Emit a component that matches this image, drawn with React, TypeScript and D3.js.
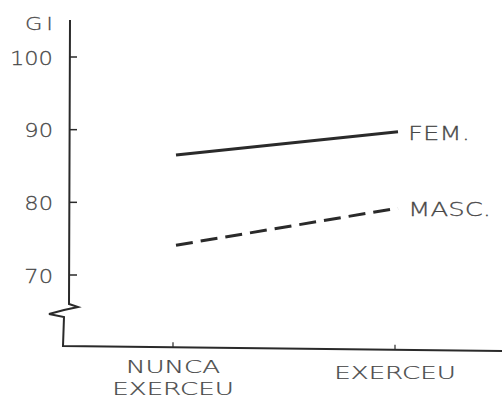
import * as d3 from 'd3'

const categories = ['NUNCA EXERCEU', 'EXERCEU']
const femValues = [86.5, 89.7]
const mascValues = [74.1, 79.2]
const yTicks = [70, 80, 90, 100]
const seriesLabels = ['FEM.', 'MASC.']

const W = 502
const H = 400

const ink = '#2a2a2a'
const font = "'DejaVu Sans', sans-serif"
const labelFill = '#474747'

// wide, thin lettering like the stencil of the original
function Wide({ x, y, sx = 1.3, anchor = 'start', size = 20, children }: any) {
  return (
    <g transform={`translate(${x},${y}) scale(${sx},1)`}>
      <text
        textAnchor={anchor}
        fontFamily={font}
        fontSize={size}
        fontWeight={200}
        fill={labelFill}
        stroke={labelFill}
        strokeWidth={0.25}
      >
        {children}
      </text>
    </g>
  )
}

export default function App() {
  const x = d3.scalePoint<string>().domain(categories).range([173, 395])
  const y = d3.scaleLinear().domain([70, 100]).range([275, 57])

  const line = d3
    .line<number>()
    .x((_, i) => (x(categories[i]) as number) + 3)
    .y(d => y(d))

  const axisX0 = 66
  const baseY = 346
  // hand-drawn break on the y axis
  const axisPath = d3.path()
  axisPath.moveTo(70, 20)
  axisPath.lineTo(69, 304)
  axisPath.lineTo(78, 307)
  axisPath.lineTo(64, 310)
  axisPath.lineTo(49, 314)
  axisPath.lineTo(64, 317)
  axisPath.lineTo(63, baseY)
  axisPath.lineTo(W, 351)

  return (
    <svg width={W} height={H} style={{ position: 'absolute', left: 0, top: 0, background: '#fff' }}>
      <path d={axisPath.toString()} fill="none" stroke={ink} strokeWidth={2} />
      <Wide x={25} y={30} sx={1.25} size={18}>
        <tspan>G</tspan>
        <tspan dx={3}>I</tspan>
      </Wide>
      {yTicks.map(t => (
        <g key={t}>
          <line x1={axisX0 + 3} x2={axisX0 + 11} y1={y(t)} y2={y(t)} stroke={ink} strokeWidth={1.5} />
          <Wide x={53} y={y(t) + 7.5} sx={1.13} anchor="end">
            {t}
          </Wide>
        </g>
      ))}
      {categories.map((c, i) => {
        const cx = x(c) as number
        const ty = baseY + (cx - 63) * (5 / (W - 63))
        const words = i === 0 ? c.split(' ') : [c]
        return (
          <g key={c}>
            <line x1={cx} x2={cx} y1={ty} y2={ty - 5} stroke={ink} strokeWidth={1.2} />
            {words.map((w, j) => (
              <Wide key={w} x={cx} y={(i === 0 ? 373 : 379) + j * 22} anchor="middle" sx={1.45} size={18}>
                {w}
              </Wide>
            ))}
          </g>
        )
      })}
      <path d={line(femValues) as string} fill="none" stroke={ink} strokeWidth={3} />
      <path
        d={line(mascValues) as string}
        fill="none"
        stroke={ink}
        strokeWidth={3}
        strokeDasharray="17 8"
      />
      {[femValues, mascValues].map((vals, i) => (
        <Wide key={seriesLabels[i]} x={(x(categories[1]) as number) + 13} y={y(vals[1]) + 8} sx={1.3}>
          {seriesLabels[i]}
        </Wide>
      ))}
    </svg>
  )
}
